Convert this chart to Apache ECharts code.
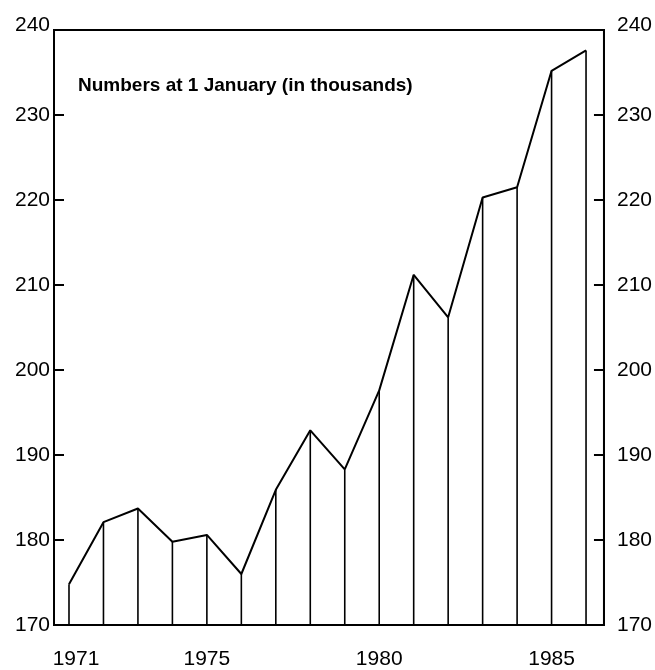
<!DOCTYPE html>
<html><head><meta charset="utf-8">
<script src="https://cdn.jsdelivr.net/npm/echarts@6/dist/echarts.min.js"></script>
<style>html,body{margin:0;padding:0;background:#fff}#c{width:655px;height:670px}</style>
</head><body><div id="c"></div>
<script>
const years = [1971,1972,1973,1974,1975,1976,1977,1978,1979,1980,1981,1982,1983,1984,1985,1986];
const values = [174.8,182.1,183.7,179.8,180.6,176.0,185.9,192.9,188.3,197.6,211.2,206.2,220.3,221.5,235.2,237.6];
const yTicks = [170,180,190,200,210,220,230,240];
const xLabelYears = [1971,1975,1980,1985];
const titleText = 'Numbers at 1 January (in thousands)';

const FONT = 'Liberation Sans, Arial, Helvetica, sans-serif';
const chart = echarts.init(document.getElementById('c'), null, {renderer:'canvas'});
const yMin = yTicks[0], yMax = yTicks[yTicks.length-1];
const pts = years.map((y,i)=>[y, values[i]]);

function yAxisCfg(pos, margin){
  return {
    type:'value', position:pos, min:yMin, max:yMax, interval:10,
    axisLine:{show:true, lineStyle:{color:'#000', width:2}},
    axisTick:{show:true, inside:true, length:10, lineStyle:{color:'#000', width:2}},
    splitLine:{show:false},
    axisLabel:{
      margin:margin, fontSize:21, color:'#000', fontFamily:FONT,
      formatter:function(v){ return v===yMax ? '{t|'+v+'}' : String(v); },
      rich:{t:{fontSize:21, color:'#000', fontFamily:FONT, padding:[0,0,10,0]}}
    }
  };
}

chart.setOption({
  animation:false,
  backgroundColor:'#fff',
  title:{text:titleText, left:73, top:71,
    textStyle:{fontSize:19, fontWeight:'bold', color:'#000', fontFamily:FONT}},
  grid:{left:54, right:51, top:30, bottom:45, show:true, borderColor:'#000', borderWidth:2, backgroundColor:'transparent'},
  xAxis:{
    type:'value', min:1970.565, max:1986.52,
    axisLine:{show:false}, axisTick:{show:false}, splitLine:{show:false},
    axisLabel:{
      customValues:xLabelYears, margin:24, fontSize:21, color:'#000', fontFamily:FONT,
      formatter:function(v){ return v===xLabelYears[0] ? '{a|'+v+'}' : String(v); },
      rich:{a:{fontSize:21, color:'#000', fontFamily:FONT, padding:[0,0,0,14]}}
    }
  },
  yAxis:[yAxisCfg('left',4), yAxisCfg('right',13)],
  series:[
    {
      type:'custom', yAxisIndex:0, data:pts,
      renderItem:function(params, api){
        const top = api.coord([api.value(0), api.value(1)]);
        const bot = api.coord([api.value(0), yMin]);
        return {type:'line', shape:{x1:top[0], y1:top[1], x2:bot[0], y2:bot[1]},
          style:{stroke:'#000', lineWidth:1.6}};
      }
    },
    {
      type:'line', yAxisIndex:0, data:pts, symbol:'none',
      lineStyle:{color:'#000', width:2}
    }
  ]
});
</script></body></html>
